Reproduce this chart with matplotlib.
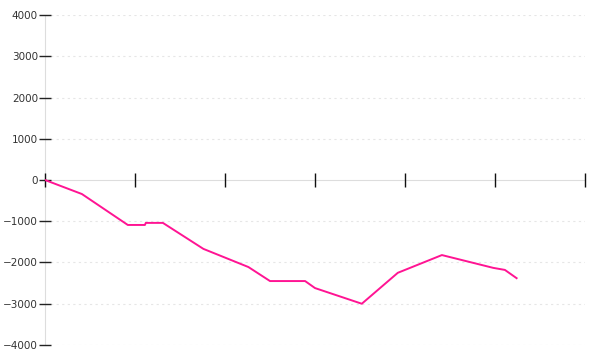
import matplotlib
matplotlib.use("Agg")
import matplotlib.pyplot as plt

# x in tick units of 10 (ticks at 0, 10, ..., 60), y values
x_vals = [0, 4.1, 9.2, 11.1, 11.2, 13.1, 17.6, 22.6, 25.0, 28.9, 30.0, 35.2, 39.2, 44.1, 49.8, 51.1, 52.4]
y_vals = [0, -340, -1090, -1090, -1040, -1040, -1670, -2110, -2450, -2450, -2620, -3000, -2250, -1820, -2130, -2180, -2380]
y_ticks = [-4000, -3000, -2000, -1000, 0, 1000, 2000, 3000, 4000]
x_ticks = [0, 10, 20, 30, 40, 50, 60]

fig = plt.figure(figsize=(6, 3.6), dpi=100)
ax = fig.add_axes([0.075, 0.0417, 0.9, 0.9166])

ax.plot(x_vals, y_vals, color="#ff1493", linewidth=1.4)

ax.set_xlim(0, 60)
ax.set_ylim(-4000, 4000)
ax.set_yticks(y_ticks)
ax.set_xticks(x_ticks)
ax.set_xticklabels([])

for v in y_ticks:
    if v != 0:
        ax.axhline(v, color="#e6e6e6", linestyle=(0, (2, 3)), linewidth=0.8, zorder=0)

ax.spines["top"].set_visible(False)
ax.spines["right"].set_visible(False)
ax.spines["left"].set_color("#dddddd")
ax.spines["left"].set_zorder(0.5)
ax.spines["bottom"].set_position(("data", 0))
ax.spines["bottom"].set_color("#dddddd")
ax.spines["bottom"].set_zorder(0.5)

ax.tick_params(axis="y", direction="inout", length=8, width=1, color="#222222",
               labelsize=7.5, labelcolor="#333333", pad=1)
ax.tick_params(axis="x", direction="inout", length=10, width=1, color="#111111")

fig.savefig("out.png", dpi=100)
